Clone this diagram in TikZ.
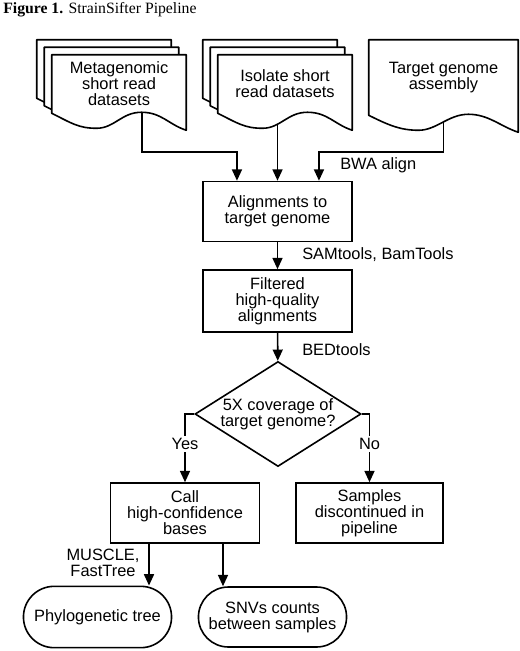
\documentclass[tikz,border=0pt]{standalone}
\usepackage{fontspec}
\setmainfont{Liberation Sans}
\newfontfamily\titlefont{Liberation Serif}
\usetikzlibrary{arrows.meta,positioning,calc,shapes.geometric,shapes.misc,backgrounds}

\pgfdeclarelayer{wires}
\pgfsetlayers{wires,background,main}

\tikzset{
  every node/.style={font=\fontsize{12.3}{12}\selectfont},
  line/.style={draw=black, line width=1.2pt},
  arr/.style={line, -{Triangle[width=7.5pt,length=8.5pt]}},
  docnode/.style={rectangle, inner sep=0pt, align=center, minimum width=100.5pt, minimum height=43.5pt},
  docline/.style={line, fill=white, line join=round},
  proc/.style={line, rectangle, align=center, minimum width=111.75pt, minimum height=45pt},
  decide/.style={line, diamond, aspect=1.58, inner sep=0pt, align=center, minimum width=124.5pt, minimum height=78.75pt},
  term/.style={line, rounded rectangle, align=center, minimum width=117.75pt, minimum height=46pt},
  lbl/.style={anchor=west, inner sep=0pt}
}

% paper with a wavy lower edge, drawn round a named node
\newcommand{\docshape}[1]{%
  \path[docline] (#1.south west)
    .. controls +(20,10) and +(-18,0) .. ($(#1.south west)!1/3!(#1.south east)+(0,15)$)
    .. controls +(18,0) and +(-20,0) .. ($(#1.south west)!2/3!(#1.south east)+(0,-1)$)
    .. controls +(20,0) and +(-18,-6) .. ($(#1.south east)+(0,17)$)
    -- (#1.north east) -- (#1.north west) -- cycle;}

\begin{document}
\begin{tikzpicture}[x=0.75pt,y=-0.75pt]
\useasboundingbox (0,0) rectangle (520,651);

\node[anchor=base west, inner sep=0pt, font=\titlefont\fontsize{11.8}{12}\selectfont] (title) at (3,13) {\textbf{Figure 1.} StrainSifter Pipeline};

% input files
\node[docnode] (metaback) at (104,69) {};
\node[docnode] (metamid) at (111.5,76.5) {};
\node[docnode] (meta) at (119,84) {Metagenomic\\short read\\datasets};
\node[docnode] (isoback) at (270,69) {};
\node[docnode] (isomid) at (277.5,76.5) {};
\node[docnode] (iso) at (285,84) {Isolate short\\read datasets};
\node[docnode, minimum width=111.75pt, minimum height=56.25pt] (target) at (443.5,77.5) {Target genome\\assembly};

\begin{scope}[on background layer]
\docshape{metaback}
\docshape{metamid}
\docshape{meta}
\docshape{isoback}
\docshape{isomid}
\docshape{iso}
\docshape{target}
\end{scope}

% steps
\node[proc] (align) at (277.5,211.5) {Alignments to\\target genome};
\node[proc, minimum height=46.5pt] (filt) at (277.5,301) {Filtered\\high-quality\\alignments};
\node[decide] (cover) at (278,414) {5X coverage of\\target genome?};
\node[proc] (call) at (185,513) {Call\\high-confidence\\bases};
\node[proc, minimum width=110.25pt] (disc) at (369.5,513) {Samples\\discontinued in\\pipeline};
\node[term] (phylo) at (97.5,617) {Phylogenetic tree};
\node[term, minimum height=45pt] (snv) at (272.5,617) {SNVs counts\\between samples};

% tool labels
\node[lbl] (bwa) at (340,165) {BWA align};
\node[lbl] (sam) at (302,255) {SAMtools, BamTools};
\node[lbl] (bed) at (302,350) {BEDtools};
\node[align=center, inner sep=0pt] (muscle) at (103,563) {MUSCLE,\\FastTree};

\coordinate (bus) at (0,152);
\coordinate (inA) at ([xshift=-30.4pt]align.north);
\coordinate (inC) at ([xshift=31.1pt]align.north);

\begin{pgfonlayer}{wires}
\draw[arr] ([xshift=17.25pt]meta.south) |- (inA |- bus) -- (inA);
\draw[arr] (iso.south -| align.north) -- (align.north);
\draw[arr] (target.south) |- (inC |- bus) -- (inC);
\draw[arr] (align) -- (filt);
\draw[arr] (filt) -- (cover);
\draw[arr] (cover.west) -| (call.north) node[pos=0.72, fill=white, inner sep=1.5pt] {Yes};
\draw[arr] (cover.east) -| (disc.north) node[pos=0.72, fill=white, inner sep=1.5pt] {No};
\draw[arr] ([xshift=-27pt]call.south) -- ([xshift=-27pt]call.south |- phylo.north);
\draw[arr] ([xshift=28.5pt]call.south) -- ([xshift=28.5pt]call.south |- snv.north);
\end{pgfonlayer}

\end{tikzpicture}
\end{document}
